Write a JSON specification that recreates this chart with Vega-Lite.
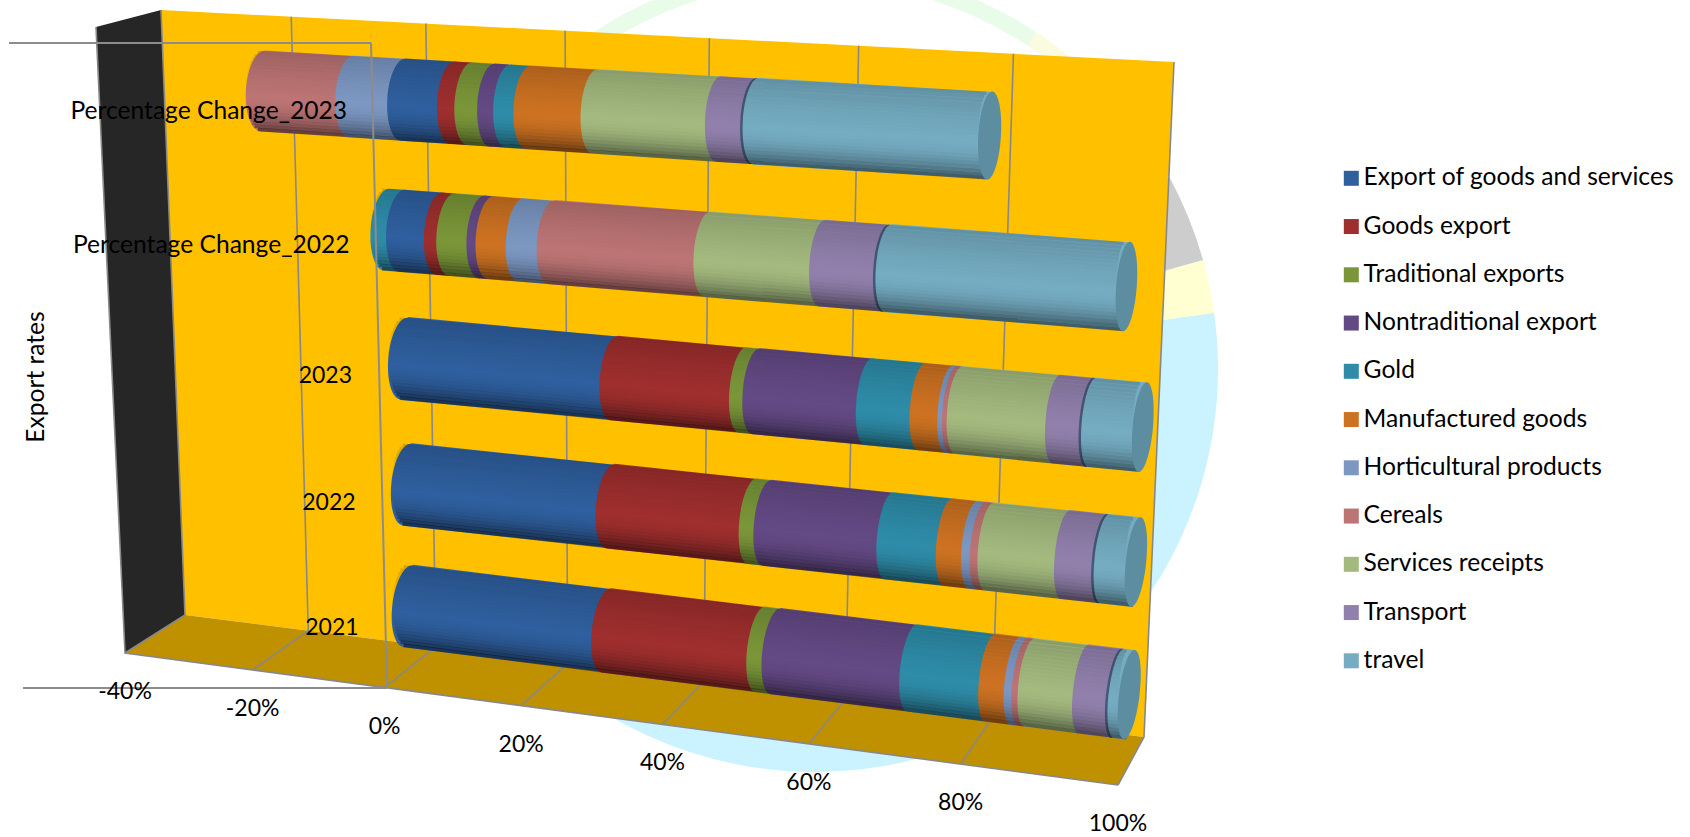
{
"$schema":"https://vega.github.io/schema/vega-lite/v6.json",
"width":1690,"height":837,"padding":0,"autosize":"none","background":"#ffffff",
"view":{"stroke":null},
"config":{"font":"Lato","text":{"font":"Lato","fontSize":23,"color":"#000000"}},
"datasets":{
"shares":[
{"category":"2021","series":"Export of goods and services","share":29.3},{"category":"2021","series":"Goods export","share":21.8},{"category":"2021","series":"Traditional exports","share":2.1},{"category":"2021","series":"Nontraditional export","share":18.6},{"category":"2021","series":"Gold","share":10.4},{"category":"2021","series":"Manufactured goods","share":3.3},{"category":"2021","series":"Horticultural products","share":1.0},{"category":"2021","series":"Cereals","share":0.8},{"category":"2021","series":"Services receipts","share":7.0},{"category":"2021","series":"Transport","share":4.5},{"category":"2021","series":"travel","share":1.3},
{"category":"2022","series":"Export of goods and services","share":29.7},{"category":"2022","series":"Goods export","share":19.9},{"category":"2022","series":"Traditional exports","share":2.0},{"category":"2022","series":"Nontraditional export","share":16.5},{"category":"2022","series":"Gold","share":7.8},{"category":"2022","series":"Manufactured goods","share":3.3},{"category":"2022","series":"Horticultural products","share":1.1},{"category":"2022","series":"Cereals","share":1.0},{"category":"2022","series":"Services receipts","share":9.8},{"category":"2022","series":"Transport","share":5.0},{"category":"2022","series":"travel","share":3.9},
{"category":"2023","series":"Export of goods and services","share":30.3},{"category":"2023","series":"Goods export","share":17.8},{"category":"2023","series":"Traditional exports","share":1.8},{"category":"2023","series":"Nontraditional export","share":15.1},{"category":"2023","series":"Gold","share":7.0},{"category":"2023","series":"Manufactured goods","share":3.6},{"category":"2023","series":"Horticultural products","share":0.6},{"category":"2023","series":"Cereals","share":0.6},{"category":"2023","series":"Services receipts","share":12.5},{"category":"2023","series":"Transport","share":4.5},{"category":"2023","series":"travel","share":6.3},
{"category":"Percentage Change_2022","series":"Export of goods and services","share":5.5},{"category":"Percentage Change_2022","series":"Goods export","share":1.8},{"category":"Percentage Change_2022","series":"Traditional exports","share":4.35},{"category":"Percentage Change_2022","series":"Nontraditional export","share":1.3},{"category":"Percentage Change_2022","series":"Gold","share":-2.3},{"category":"Percentage Change_2022","series":"Manufactured goods","share":4.3},{"category":"Percentage Change_2022","series":"Horticultural products","share":4.4},{"category":"Percentage Change_2022","series":"Cereals","share":21.7},{"category":"Percentage Change_2022","series":"Services receipts","share":15.5},{"category":"Percentage Change_2022","series":"Transport","share":8.7},{"category":"Percentage Change_2022","series":"travel","share":30.4},
{"category":"Percentage Change_2023","series":"Export of goods and services","share":7.3},{"category":"Percentage Change_2023","series":"Goods export","share":2.5},{"category":"Percentage Change_2023","series":"Traditional exports","share":3.3},{"category":"Percentage Change_2023","series":"Nontraditional export","share":2.3},{"category":"Percentage Change_2023","series":"Gold","share":2.9},{"category":"Percentage Change_2023","series":"Manufactured goods","share":9.5},{"category":"Percentage Change_2023","series":"Horticultural products","share":-7.7},{"category":"Percentage Change_2023","series":"Cereals","share":-13.5},{"category":"Percentage Change_2023","series":"Services receipts","share":17.2},{"category":"Percentage Change_2023","series":"Transport","share":5.1},{"category":"Percentage Change_2023","series":"travel","share":30.9}
],
"box":[
{"part":"side","i":0,"v":-40,"d":0,"h":1},{"part":"side","i":1,"v":-40,"d":1,"h":1},{"part":"side","i":2,"v":-40,"d":1,"h":0},{"part":"side","i":3,"v":-40,"d":0,"h":0},{"part":"side","i":4,"v":-40,"d":0,"h":1},
{"part":"back","i":0,"v":-40,"d":1,"h":1},{"part":"back","i":1,"v":100,"d":1,"h":1},{"part":"back","i":2,"v":100,"d":1,"h":0},{"part":"back","i":3,"v":-40,"d":1,"h":0},{"part":"back","i":4,"v":-40,"d":1,"h":1},
{"part":"floor","i":0,"v":-40,"d":1,"h":0},{"part":"floor","i":1,"v":100,"d":1,"h":0},{"part":"floor","i":2,"v":100,"d":0,"h":0},{"part":"floor","i":3,"v":-40,"d":0,"h":0},{"part":"floor","i":4,"v":-40,"d":1,"h":0}
],
"grid":[
{"line":"g-20","i":0,"v":-20,"d":1,"h":1},{"line":"g-20","i":1,"v":-20,"d":1,"h":0},{"line":"g-20","i":2,"v":-20,"d":0,"h":0},
{"line":"g0","i":0,"v":0,"d":1,"h":1},{"line":"g0","i":1,"v":0,"d":1,"h":0},{"line":"g0","i":2,"v":0,"d":0,"h":0},
{"line":"g20","i":0,"v":20,"d":1,"h":1},{"line":"g20","i":1,"v":20,"d":1,"h":0},{"line":"g20","i":2,"v":20,"d":0,"h":0},
{"line":"g40","i":0,"v":40,"d":1,"h":1},{"line":"g40","i":1,"v":40,"d":1,"h":0},{"line":"g40","i":2,"v":40,"d":0,"h":0},
{"line":"g60","i":0,"v":60,"d":1,"h":1},{"line":"g60","i":1,"v":60,"d":1,"h":0},{"line":"g60","i":2,"v":60,"d":0,"h":0},
{"line":"g80","i":0,"v":80,"d":1,"h":1},{"line":"g80","i":1,"v":80,"d":1,"h":0},{"line":"g80","i":2,"v":80,"d":0,"h":0},
{"line":"g100","i":0,"v":100,"d":1,"h":1},{"line":"g100","i":1,"v":100,"d":1,"h":0},{"line":"g100","i":2,"v":100,"d":0,"h":0},
{"line":"front","i":0,"v":-40,"d":0,"h":1},{"line":"front","i":1,"v":-40,"d":0,"h":0},{"line":"front","i":2,"v":100,"d":0,"h":0},
{"line":"inner","i":0,"v":-40,"d":1,"h":1},{"line":"inner","i":1,"v":-40,"d":1,"h":0},{"line":"inner","i":2,"v":-40,"d":0,"h":0}
],
"ticks":[{"v":-40},{"v":-20},{"v":0},{"v":20},{"v":40},{"v":60},{"v":80},{"v":100}]
},
"data":{"name":"shares"},
"transform":[
{"calculate":"indexof(['Export of goods and services','Goods export','Traditional exports','Nontraditional export','Gold','Manufactured goods','Horticultural products','Cereals','Services receipts','Transport','travel'],datum.series)","as":"order"},
{"stack":"share","groupby":["category"],"sort":[{"field":"order","order":"ascending"}],"as":["s0","s1"]},
{"calculate":"indexof(['2021','2022','2023','Percentage Change_2022','Percentage Change_2023'],datum.category)","as":"row"},
{"calculate":"min(datum.s0,datum.s1)","as":"vS"},
{"calculate":"max(datum.s0,datum.s1)","as":"vE"},
{"joinaggregate":[{"op":"min","field":"vS","as":"vMin"},{"op":"max","field":"vE","as":"vMax"}],"groupby":["category"]},
{"calculate":"[408,407,404,402,403][datum.row]","as":"x0"},
{"calculate":"[1128.5,1136,1142,1143,1140][datum.row]","as":"x1"},
{"calculate":"[606,484.5,358.5,230.7,99.6][datum.row]","as":"y0"},
{"calculate":"[694.5,562,427,287.8,144.7][datum.row]","as":"y1"},
{"calculate":"(datum.vS+40)/140","as":"tS"},
{"calculate":"(datum.vE+40)/140","as":"tE"},
{"calculate":"(datum.tS/(datum.tS+1.13*(1-datum.tS))-0.2614)/0.7386","as":"qS"},
{"calculate":"(datum.tE/(datum.tE+1.13*(1-datum.tE))-0.2614)/0.7386","as":"qE"},
{"calculate":"datum.x0+(datum.x1-datum.x0)*datum.qS","as":"X"},
{"calculate":"datum.y0+(datum.y1-datum.y0)*datum.qS","as":"Y"},
{"calculate":"datum.x0+(datum.x1-datum.x0)*datum.qE","as":"X2"},
{"calculate":"datum.y0+(datum.y1-datum.y0)*datum.qE","as":"Y2"},
{"calculate":"82+8*(datum.qS+datum.qE)/2","as":"w"},
{"calculate":"atan((datum.y1-datum.y0)/(datum.x1-datum.x0))*180/PI","as":"tilt"},
{"calculate":"(82+8*datum.qS)*(82+8*datum.qS)","as":"capSize"},
{"calculate":"(82+8*datum.qE)*(82+8*datum.qE)","as":"endSize"},
{"calculate":"(16.5-0.0075*(datum.X-300))/((82+8*datum.qS)/2)","as":"rS"},
{"calculate":"(16.5-0.0075*(datum.X2-300))/((82+8*datum.qE)/2)","as":"rE"},
{"calculate":"'M0,-1A'+format(datum.rS,'.3f')+',1 0 1 0 0,1A'+format(datum.rS,'.3f')+',1 0 1 0 0,-1Z'","as":"capPath"},
{"calculate":"'M0,-1A'+format(datum.rE,'.3f')+',1 0 1 0 0,1A'+format(datum.rE,'.3f')+',1 0 1 0 0,-1Z'","as":"endPath"}
],
"encoding":{
"x":{"field":"X","type":"quantitative","axis":null,"scale":{"domain":[0,1690],"nice":false,"zero":false}},
"y":{"field":"Y","type":"quantitative","axis":null,"scale":{"domain":[837,0],"nice":false,"zero":false}}
},
"layer":[
{"transform":[{"filter":"datum.row==0&&datum.order==0"}],"mark":{"type":"arc","fill":"#CBF2FF","theta":1.431,"theta2":3.75,"radius":403,"radius2":0},"encoding":{"x":{"datum":815},"y":{"datum":369}}},
{"transform":[{"filter":"datum.row==0&&datum.order==0"}],"mark":{"type":"arc","fill":"#FFFFD2","theta":1.297,"theta2":1.431,"radius":403,"radius2":0},"encoding":{"x":{"datum":815},"y":{"datum":369}}},
{"transform":[{"filter":"datum.row==0&&datum.order==0"}],"mark":{"type":"arc","fill":"#CDCDCD","theta":1.075,"theta2":1.297,"radius":403,"radius2":0},"encoding":{"x":{"datum":815},"y":{"datum":369}}},
{"transform":[{"filter":"datum.row==0&&datum.order==0"}],"mark":{"type":"arc","fill":"#E9FBE9","theta":-0.65,"theta2":0.581,"radius":403,"radius2":387},"encoding":{"x":{"datum":815},"y":{"datum":369}}},
{"transform":[{"filter":"datum.row==0&&datum.order==0"}],"mark":{"type":"arc","fill":"#FBFBE0","theta":0.581,"theta2":0.72,"radius":403,"radius2":387},"encoding":{"x":{"datum":815},"y":{"datum":369}}},

{"data":{"name":"box"},
"transform":[
{"calculate":"(datum.v+40)/140","as":"t"},
{"calculate":"datum.t/(datum.t+1.13*(1-datum.t))","as":"p"},
{"calculate":"(125+60*datum.d)*(1-datum.h)+(96+65*datum.d)*datum.h","as":"xl"},
{"calculate":"(1118+26*datum.d)*(1-datum.h)+(1148+26*datum.d)*datum.h","as":"xr"},
{"calculate":"(653-38*datum.d)*(1-datum.h)+(27-17*datum.d)*datum.h","as":"yl"},
{"calculate":"(785-48*datum.d)*(1-datum.h)+(88-26*datum.d)*datum.h","as":"yr"},
{"calculate":"datum.xl+(datum.xr-datum.xl)*datum.p","as":"X"},
{"calculate":"datum.yl+(datum.yr-datum.yl)*datum.p","as":"Y"},
{"filter":"datum.part=='side'"}],
"mark":{"type":"line","fill":"#262626","strokeWidth":0},
"encoding":{"order":{"field":"i","type":"quantitative"}}},

{"data":{"name":"box"},
"transform":[
{"calculate":"(datum.v+40)/140","as":"t"},
{"calculate":"datum.t/(datum.t+1.13*(1-datum.t))","as":"p"},
{"calculate":"(125+60*datum.d)*(1-datum.h)+(96+65*datum.d)*datum.h","as":"xl"},
{"calculate":"(1118+26*datum.d)*(1-datum.h)+(1148+26*datum.d)*datum.h","as":"xr"},
{"calculate":"(653-38*datum.d)*(1-datum.h)+(27-17*datum.d)*datum.h","as":"yl"},
{"calculate":"(785-48*datum.d)*(1-datum.h)+(88-26*datum.d)*datum.h","as":"yr"},
{"calculate":"datum.xl+(datum.xr-datum.xl)*datum.p","as":"X"},
{"calculate":"datum.yl+(datum.yr-datum.yl)*datum.p","as":"Y"},
{"filter":"datum.part=='back'"}],
"mark":{"type":"line","fill":"#FFC000","strokeWidth":0},
"encoding":{"order":{"field":"i","type":"quantitative"}}},

{"data":{"name":"box"},
"transform":[
{"calculate":"(datum.v+40)/140","as":"t"},
{"calculate":"datum.t/(datum.t+1.13*(1-datum.t))","as":"p"},
{"calculate":"(125+60*datum.d)*(1-datum.h)+(96+65*datum.d)*datum.h","as":"xl"},
{"calculate":"(1118+26*datum.d)*(1-datum.h)+(1148+26*datum.d)*datum.h","as":"xr"},
{"calculate":"(653-38*datum.d)*(1-datum.h)+(27-17*datum.d)*datum.h","as":"yl"},
{"calculate":"(785-48*datum.d)*(1-datum.h)+(88-26*datum.d)*datum.h","as":"yr"},
{"calculate":"datum.xl+(datum.xr-datum.xl)*datum.p","as":"X"},
{"calculate":"datum.yl+(datum.yr-datum.yl)*datum.p","as":"Y"},
{"filter":"datum.part=='floor'"}],
"mark":{"type":"line","fill":"#BF9000","strokeWidth":0},
"encoding":{"order":{"field":"i","type":"quantitative"}}},

{"data":{"name":"grid"},
"transform":[
{"calculate":"(datum.v+40)/140","as":"t"},
{"calculate":"datum.t/(datum.t+1.13*(1-datum.t))","as":"p"},
{"calculate":"(125+60*datum.d)*(1-datum.h)+(96+65*datum.d)*datum.h","as":"xl"},
{"calculate":"(1118+26*datum.d)*(1-datum.h)+(1148+26*datum.d)*datum.h","as":"xr"},
{"calculate":"(653-38*datum.d)*(1-datum.h)+(27-17*datum.d)*datum.h","as":"yl"},
{"calculate":"(785-48*datum.d)*(1-datum.h)+(88-26*datum.d)*datum.h","as":"yr"},
{"calculate":"datum.xl+(datum.xr-datum.xl)*datum.p","as":"X"},
{"calculate":"datum.yl+(datum.yr-datum.yl)*datum.p","as":"Y"}],
"mark":{"type":"line","stroke":"#888888","strokeWidth":1.6},
"encoding":{"detail":{"field":"line"},"order":{"field":"i","type":"quantitative"}}},

{"mark":{"type":"rule"},
"encoding":{
"x2":{"field":"X2"},"y2":{"field":"Y2"},
"size":{"field":"w","type":"quantitative","scale":null,"legend":null},
"color":{"field":"series","type":"nominal",
"scale":{"domain":["Export of goods and services","Goods export","Traditional exports","Nontraditional export","Gold","Manufactured goods","Horticultural products","Cereals","Services receipts","Transport","travel"],
"range":["#2F5F9E","#9E2F2E","#7A9639","#644A85","#2E8CA8","#CC7222","#7C97C2","#BC7474","#A3B97E","#9180AC","#75ACC2"]},
"legend":{"title":null,"orient":"none","legendX":1339,"legendY":166,"symbolType":"square","symbolSize":225,"symbolStrokeWidth":0,"symbolOpacity":1,"labelFont":"Lato","labelFontSize":24.6,"labelColor":"#000000","labelOffset":0,"labelLimit":400,"rowPadding":23.25,"columns":1}}}},

{"transform":[{"filter":"datum.series=='travel'"}],
"mark":{"type":"point","filled":true,"opacity":1,"color":"#46597A","xOffset":-2.5},
"encoding":{
"shape":{"field":"capPath","type":"nominal","scale":null},
"size":{"field":"capSize","type":"quantitative","scale":null},
"angle":{"field":"tilt","type":"quantitative","scale":null}}},

{"mark":{"type":"point","filled":true,"opacity":1},
"encoding":{
"color":{"field":"series","type":"nominal","legend":null},
"shape":{"field":"capPath","type":"nominal","scale":null},
"size":{"field":"capSize","type":"quantitative","scale":null},
"angle":{"field":"tilt","type":"quantitative","scale":null},
"order":{"field":"vS","type":"quantitative"}}},

{"transform":[
{"filter":"datum.series=='travel'"},
{"calculate":"(((datum.vMin+40)/140)/(((datum.vMin+40)/140)+1.13*(1-(datum.vMin+40)/140))-0.2614)/0.7386","as":"qL"},
{"calculate":"(((datum.vMax+40)/140)/(((datum.vMax+40)/140)+1.13*(1-(datum.vMax+40)/140))-0.2614)/0.7386","as":"qR"},
{"calculate":"datum.x0+(datum.x1-datum.x0)*datum.qL","as":"xL"},
{"calculate":"datum.y0+(datum.y1-datum.y0)*datum.qL","as":"yL"},
{"calculate":"datum.x0+(datum.x1-datum.x0)*datum.qR","as":"xR"},
{"calculate":"datum.y0+(datum.y1-datum.y0)*datum.qR","as":"yR"},
{"calculate":"[-0.9583,-0.875,-0.7917,-0.7083,-0.625,-0.5417,-0.4583,-0.375,-0.2917,-0.2083,-0.125,-0.0417,0.0417,0.125,0.2083,0.2917,0.375,0.4583,0.5417,0.625,0.7083,0.7917,0.875,0.9583]","as":"u"},
{"flatten":["u"]},
{"calculate":"sqrt(1-datum.u*datum.u)","as":"bow"},
{"calculate":"datum.xL-(16.5-0.0075*(datum.xL-300))*datum.bow","as":"X"},
{"calculate":"datum.xR-(16.5-0.0075*(datum.xR-300))*datum.bow","as":"X2"},
{"calculate":"datum.yL+datum.u*(82+8*datum.qL)/2","as":"Y"},
{"calculate":"datum.yR+datum.u*(82+8*datum.qR)/2","as":"Y2"},
{"calculate":"(82+4*(datum.qL+datum.qR))/24+0.04","as":"band"},
{"calculate":"datum.u<0.15?0.16*pow((0.15-datum.u)/1.15,1.5):0.5*pow((datum.u-0.15)/0.85,2)","as":"shade"}],
"mark":{"type":"rule","color":"#000000"},
"encoding":{"x2":{"field":"X2"},"y2":{"field":"Y2"},"size":{"field":"band","type":"quantitative","scale":null},"opacity":{"field":"shade","type":"quantitative","scale":null}}},

{"transform":[{"filter":"datum.series=='travel'"}],
"mark":{"type":"point","filled":true,"opacity":1,"color":"#5D8DA1"},
"encoding":{
"x":{"field":"X2","type":"quantitative"},"y":{"field":"Y2","type":"quantitative"},
"shape":{"field":"endPath","type":"nominal","scale":null},
"size":{"field":"endSize","type":"quantitative","scale":null},
"angle":{"field":"tilt","type":"quantitative","scale":null}}},

{"transform":[{"filter":"datum.row==0&&datum.order==0"}],"mark":{"type":"rule","stroke":"#8C8C8C","strokeWidth":2},"encoding":{"x":{"datum":9},"x2":{"datum":371},"y":{"datum":43},"y2":{"datum":43}}},
{"transform":[{"filter":"datum.row==0&&datum.order==0"}],"mark":{"type":"rule","stroke":"#8C8C8C","strokeWidth":2},"encoding":{"x":{"datum":371},"x2":{"datum":387},"y":{"datum":43},"y2":{"datum":688}}},
{"transform":[{"filter":"datum.row==0&&datum.order==0"}],"mark":{"type":"rule","stroke":"#8C8C8C","strokeWidth":2},"encoding":{"x":{"datum":23},"x2":{"datum":387},"y":{"datum":688},"y2":{"datum":688}}},

{"data":{"name":"ticks"},
"transform":[
{"calculate":"(datum.v+40)/140","as":"t"},
{"calculate":"datum.t/(datum.t+1.13*(1-datum.t))","as":"p"},
{"calculate":"125+993*datum.p","as":"X"},
{"calculate":"653+132*datum.p","as":"Y"},
{"calculate":"datum.v+'%'","as":"label"}],
"mark":{"type":"text","yOffset":39,"align":"center","baseline":"middle"},
"encoding":{"text":{"field":"label"}}},

{"transform":[
{"filter":"datum.series=='travel'"},
{"calculate":"[358.6,355.6,352,349.5,347][datum.row]","as":"lx"},
{"calculate":"[628,503,376,246,112][datum.row]","as":"ly"},
{"calculate":"datum.row>=3?24.6:23","as":"fs"}],
"mark":{"type":"text","align":"right","baseline":"middle"},
"encoding":{"x":{"field":"lx","type":"quantitative"},"y":{"field":"ly","type":"quantitative"},"text":{"field":"category"},"size":{"field":"fs","type":"quantitative","scale":null}}},

{"transform":[{"filter":"datum.row==0&&datum.order==0"}],"mark":{"type":"text","text":"Export rates","angle":270,"align":"center","baseline":"middle","fontSize":24.6},"encoding":{"x":{"datum":37},"y":{"datum":377}}}
]
}
